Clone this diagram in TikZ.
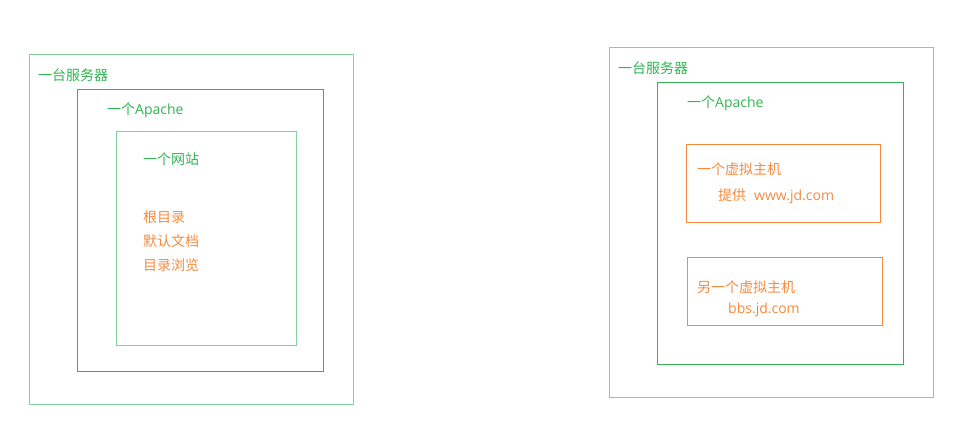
\documentclass[tikz,border=0pt]{standalone}
\usepackage{fontspec}
\setmainfont{Noto Sans CJK SC}
\newfontfamily\latf{Open Sans}
\definecolor{grnl}{HTML}{7FD39A}
\definecolor{grnd}{HTML}{34B356}
\definecolor{grnt}{HTML}{30B552}
\definecolor{orng}{HTML}{F58A3E}
\begin{document}
\begin{tikzpicture}[x=1pt,y=-1pt,
  gbox/.style={color=grnl,line width=1.2pt},
  gboxd/.style={color=grnd,line width=1.2pt},
  obox/.style={color=orng,line width=1.2pt},
  gtxt/.style={anchor=west,inner sep=0pt,text=grnt,font=\fontsize{14}{16}\selectfont},
  otxt/.style={anchor=west,inner sep=0pt,text=orng,font=\fontsize{14}{16}\selectfont}]
\useasboundingbox (0,0) rectangle (978,424);
% left
\draw[gbox] (29.5,54.5) rectangle (353.5,404.5);
\draw[gboxd] (77.5,89.5) rectangle (323.5,371.5);
\draw[gbox] (116.5,131.5) rectangle (296.5,345.5);
\node[gtxt] (l1) at (38,75) {一台服务器};
\node[gtxt] (l2) at (107,110) {一个{\latf Apache}};
\node[gtxt] (l3) at (143,159) {一个网站};
\node[otxt] (l4) at (143,217) {根目录};
\node[otxt] (l5) at (143,241) {默认文档};
\node[otxt] (l6) at (143,265) {目录浏览};
% right
\draw[gbox] (609.5,47.5) rectangle (933.5,397.5);
\draw[gboxd] (657.5,82.5) rectangle (903.5,364.5);
\draw[obox] (686.5,144.5) rectangle (880.5,222.5);
\draw[obox] (687.5,257.5) rectangle (882.5,325.5);
\node[gtxt] (r1) at (618,68) {一台服务器};
\node[gtxt] (r2) at (687,103) {一个{\latf Apache}};
\node[otxt] (r3) at (697,169) {一个虚拟主机};
\node[otxt] (r4) at (718,196) {提供\hspace{8pt}{\latf www.jd.com}};
\node[otxt] (r5) at (697,287) {另一个虚拟主机};
\node[otxt] (r6) at (728,310) {{\latf bbs.jd.com}};
\end{tikzpicture}
\end{document}
